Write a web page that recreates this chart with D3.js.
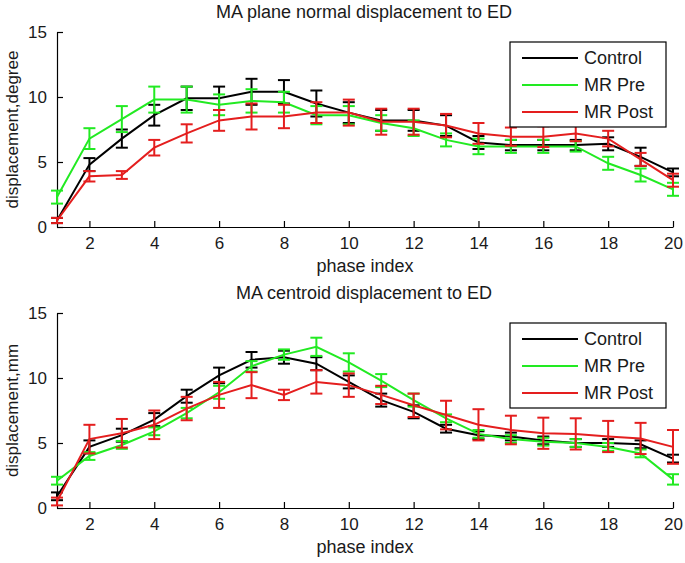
<!DOCTYPE html>
<html><head><meta charset="utf-8">
<script src="https://cdn.jsdelivr.net/npm/d3@7"></script>
<style>body{margin:0;background:#fff}svg{display:block}text{font-family:Arial,"Liberation Sans",sans-serif}</style>
</head><body>
<svg id="c" width="685" height="563"></svg>
<script>
const phases = d3.range(1, 21);
const seriesNames = ["Control", "MR Pre", "MR Post"];
const seriesColors = ["#000000", "#22ea22", "#e41e1e"];
const xTicks = [2,4,6,8,10,12,14,16,18,20];
const yTicks = [0,5,10,15];

// Top panel: MA plane normal displacement (degree)
const topControl = [0.5,4.8,6.8,8.6,9.9,9.9,10.4,10.4,9.5,8.8,8.2,8.2,7.8,6.5,6.3,6.3,6.3,6.4,5.4,4.2];
const topControlErr = [0.2,0.5,0.7,0.8,0.9,0.9,1.0,0.9,1.0,0.8,0.8,0.8,0.8,0.5,0.4,0.4,0.4,0.5,0.7,0.3];
const topPre = [2.3,6.8,8.3,9.8,9.8,9.4,9.7,9.6,8.6,8.6,8.0,7.6,6.7,6.2,6.2,6.2,6.2,4.9,4.0,2.9];
const topPreErr = [0.5,0.8,1.0,1.0,1.0,0.8,0.9,0.8,0.7,0.7,0.6,0.6,0.5,0.6,0.5,0.5,0.4,0.5,0.5,0.5];
const topPost = [0.5,3.9,4.0,6.1,7.2,8.2,8.5,8.5,8.8,8.8,8.1,8.1,7.8,7.2,6.95,6.95,7.2,6.8,5.2,3.6];
const topPostErr = [0.2,0.4,0.3,0.6,0.7,0.8,1.0,0.9,0.8,1.0,1.0,1.0,0.9,0.8,0.7,0.8,0.6,0.6,0.5,0.5];

// Bottom panel: MA centroid displacement (mm)
const botControl = [0.9,4.7,5.6,6.8,8.6,10.2,11.4,11.6,11.1,9.7,8.3,7.4,6.1,5.6,5.5,5.2,5.0,5.0,4.9,3.8];
const botControlErr = [0.3,0.5,0.5,0.5,0.5,0.6,0.6,0.5,0.5,0.5,0.5,0.5,0.3,0.3,0.3,0.3,0.3,0.3,0.3,0.3];
const botPre = [2.1,4.0,4.85,5.9,7.3,8.9,10.9,11.8,12.4,11.2,9.8,8.3,6.9,5.7,5.3,5.1,5.0,4.7,4.2,2.2];
const botPreErr = [0.3,0.3,0.3,0.3,0.4,0.5,0.4,0.4,0.7,0.7,0.5,0.5,0.3,0.3,0.3,0.3,0.3,0.3,0.3,0.4];
const botPost = [0.5,5.3,5.75,6.4,7.65,8.7,9.45,8.7,9.7,9.45,8.7,7.9,7.15,6.4,6.0,5.75,5.7,5.5,5.35,4.7];
const botPostErr = [0.3,1.1,1.1,1.1,0.9,1.0,1.0,0.4,0.9,0.9,0.7,0.9,1.1,1.2,1.1,1.2,1.2,1.2,1.2,1.3];

const panels = [
  {title:"MA plane normal displacement to ED", ylabel:"displacement,degree", top:32, bottom:227,
   series:[[topControl,topControlErr],[topPre,topPreErr],[topPost,topPostErr]]},
  {title:"MA centroid displacement to ED", ylabel:"displacement,mm", top:313, bottom:508,
   series:[[botControl,botControlErr],[botPre,botPreErr],[botPost,botPostErr]]}
];

const svg = d3.select("#c");
const left = 57, right = 673;
const txt = "#1a1a1a";

panels.forEach(p => {
  const x = d3.scaleLinear().domain([1,20]).range([left,right]);
  const y = d3.scaleLinear().domain([0,15]).range([p.bottom,p.top]);
  const g = svg.append("g");

  g.append("text").attr("x",364).attr("y",p.top-14).attr("text-anchor","middle")
    .attr("font-size",18).attr("fill",txt).text(p.title);
  const xa = g.append("g").attr("transform",`translate(0,${p.bottom})`)
    .call(d3.axisBottom(x).tickValues(xTicks).tickSizeInner(-6).tickSizeOuter(0).tickPadding(10).tickFormat(d3.format("d")));
  xa.select(".domain").attr("stroke","#000").attr("stroke-width",1.2);
  xa.selectAll(".tick line").attr("stroke","#000").attr("stroke-width",1.2);
  xa.selectAll("text").attr("font-size",17).attr("fill",txt).attr("font-family","Arial,'Liberation Sans',sans-serif");
  const ya = g.append("g").attr("transform",`translate(${left},0)`)
    .call(d3.axisLeft(y).tickValues(yTicks).tickSizeInner(-6).tickSizeOuter(0).tickPadding(10).tickFormat(d3.format("d")));
  ya.select(".domain").attr("stroke","#000").attr("stroke-width",1.2);
  ya.selectAll(".tick line").attr("stroke","#000").attr("stroke-width",1.2);
  ya.selectAll("text").attr("font-size",17).attr("fill",txt).attr("font-family","Arial,'Liberation Sans',sans-serif");
  g.append("text").attr("x",365).attr("y",p.bottom+45).attr("text-anchor","middle")
    .attr("font-size",18).attr("fill",txt).text("phase index");
  g.append("text").attr("transform",`translate(18,${(p.top+p.bottom)/2}) rotate(-90)`).attr("text-anchor","middle")
    .attr("font-size",17).attr("fill",txt).text(p.ylabel);

  p.series.forEach(([vals,errs],si) => {
    const col = seriesColors[si];
    const line = d3.line().x((d,i)=>x(phases[i])).y(d=>y(d));
    g.append("path").datum(vals).attr("d",line).attr("fill","none").attr("stroke",col).attr("stroke-width",2);
    const eb = g.append("g").attr("stroke",col).attr("stroke-width",2).attr("fill","none");
    vals.forEach((v,i)=>{
      const cx = x(phases[i]), y1 = y(v-errs[i]), y2 = y(v+errs[i]);
      eb.append("line").attr("x1",cx).attr("x2",cx).attr("y1",y1).attr("y2",y2);
      eb.append("line").attr("x1",cx-6).attr("x2",cx+6).attr("y1",y1).attr("y2",y1);
      eb.append("line").attr("x1",cx-6).attr("x2",cx+6).attr("y1",y2).attr("y2",y2);
    });
  });

  const lx = 510, ly = p.top + 10, lw = 156, lh = 85;
  const lg = g.append("g");
  lg.append("rect").attr("x",lx).attr("y",ly).attr("width",lw).attr("height",lh)
    .attr("fill","#fff").attr("stroke","#000").attr("stroke-width",1.2);
  seriesNames.forEach((n,i)=>{
    const yy = ly + 16 + i*27;
    lg.append("line").attr("x1",lx+12).attr("x2",lx+68).attr("y1",yy).attr("y2",yy)
      .attr("stroke",seriesColors[i]).attr("stroke-width",2);
    lg.append("text").attr("x",lx+74).attr("y",yy+6).attr("font-size",18).attr("fill",txt).text(n);
  });
});
</script>
</body></html>
